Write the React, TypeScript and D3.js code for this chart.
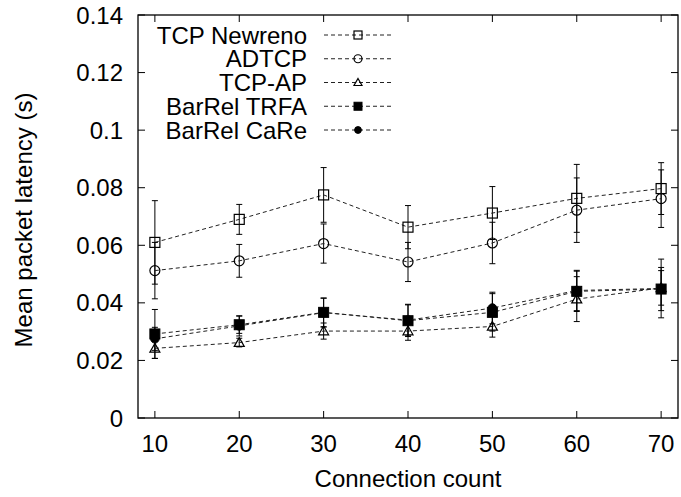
import React from "react";
import * as d3 from "d3";

const connections = [10, 20, 30, 40, 50, 60, 70];
const newreno = [0.061, 0.069, 0.0775, 0.0663, 0.0712, 0.0763, 0.0797];
const newrenoErr = [0.0145, 0.0052, 0.0095, 0.0075, 0.0092, 0.0118, 0.009];
const adtcp = [0.0512, 0.0546, 0.0606, 0.0542, 0.0608, 0.0722, 0.0762];
const adtcpErr = [0.0098, 0.0057, 0.0068, 0.0068, 0.0072, 0.0112, 0.01];
const tcpap = [0.0242, 0.0262, 0.0302, 0.0302, 0.0318, 0.0413, 0.0452];
const tcpapErr = [0.0035, 0.0015, 0.0028, 0.0032, 0.0037, 0.0078, 0.006];
const trfa = [0.0292, 0.0324, 0.0367, 0.0338, 0.0367, 0.044, 0.0448];
const trfaErr = [0.0085, 0.003, 0.005, 0.0055, 0.0065, 0.007, 0.0075];
const care = [0.0275, 0.032, 0.0366, 0.034, 0.0382, 0.0443, 0.045];
const careErr = [0.004, 0.0035, 0.005, 0.0055, 0.0055, 0.007, 0.0102];

const yTicks = [0, 0.02, 0.04, 0.06, 0.08, 0.1, 0.12, 0.14];
const yTickLabels = ["0", "0.02", "0.04", "0.06", "0.08", "0.1", "0.12", "0.14"];
const xTicks = [10, 20, 30, 40, 50, 60, 70];

type Marker = "square" | "circle" | "triangle" | "fsquare" | "fcircle";
const seriesNames = ["TCP Newreno", "ADTCP", "TCP-AP", "BarRel TRFA", "BarRel CaRe"];
const seriesValues = [newreno, adtcp, tcpap, trfa, care];
const seriesErrs = [newrenoErr, adtcpErr, tcpapErr, trfaErr, careErr];
const seriesMarkers: Marker[] = ["square", "circle", "triangle", "fsquare", "fcircle"];

const W = 681, H = 497;
const L = 138, R = 678, T = 15, B = 418;
const FONT = "'Liberation Sans', Arial, Helvetica, sans-serif";
const FS = 24;

function MarkerShape({ type, cx, cy, s }: { type: Marker; cx: number; cy: number; s: number }) {
  const h = s / 2;
  switch (type) {
    case "square":
      return <rect x={cx - h} y={cy - h} width={s} height={s} fill="none" stroke="#000" strokeWidth={1.2} />;
    case "fsquare":
      return <rect x={cx - h} y={cy - h} width={s} height={s} fill="#000" stroke="#000" strokeWidth={1} />;
    case "circle":
      return <circle cx={cx} cy={cy} r={h} fill="none" stroke="#000" strokeWidth={1.2} />;
    case "fcircle":
      return <circle cx={cx} cy={cy} r={h * 0.85} fill="#000" stroke="#000" strokeWidth={1} />;
    case "triangle":
      return (
        <path
          d={`M${cx},${cy - h} L${cx + h},${cy + h * 0.75} L${cx - h},${cy + h * 0.75} Z`}
          fill="none"
          stroke="#000"
          strokeWidth={1.2}
        />
      );
  }
}

export default function App() {
  const x = d3.scaleLinear().domain([8, 72]).range([L, R]);
  const y = d3.scaleLinear().domain([0, 0.14]).range([B, T]);
  const line = d3
    .line<number>()
    .x((_, i) => x(connections[i]))
    .y((d) => y(d));
  const tick = 7;
  const capW = 3;

  const legendRight = 307;
  const legendY0 = 35;
  const legendDY = 23.75;
  const legLine0 = 324, legLine1 = 391, legMarkX = 358;

  return (
    <svg width={W} height={H} style={{ position: "absolute", left: 0, top: 0, background: "#fff" }} fontFamily={FONT}>
      <rect x={0} y={0} width={W} height={H} fill="#fff" />
      {/* ticks */}
      {yTicks.map((t, i) => (
        <g key={"yt" + i}>
          <line x1={L} x2={L + tick} y1={y(t)} y2={y(t)} stroke="#000" strokeWidth={1} />
          <line x1={R} x2={R - tick} y1={y(t)} y2={y(t)} stroke="#000" strokeWidth={1} />
          <text x={L - 15} y={y(t)} dy="0.36em" textAnchor="end" fontSize={FS} fill="#000">
            {yTickLabels[i]}
          </text>
        </g>
      ))}
      {xTicks.map((t, i) => (
        <g key={"xt" + i}>
          <line x1={x(t)} x2={x(t)} y1={B} y2={B - tick} stroke="#000" strokeWidth={1} />
          <line x1={x(t)} x2={x(t)} y1={T} y2={T + tick} stroke="#000" strokeWidth={1} />
          <text x={x(t)} y={452} textAnchor="middle" fontSize={FS} fill="#000">
            {t}
          </text>
        </g>
      ))}
      {/* series */}
      {seriesValues.map((vals, si) => (
        <g key={"s" + si}>
          {vals.map((v, i) => {
            const e = seriesErrs[si][i];
            const cx = x(connections[i]);
            return (
              <g key={"e" + i}>
                <line x1={cx} x2={cx} y1={y(v - e)} y2={y(v + e)} stroke="#000" strokeWidth={1} />
                <line x1={cx - capW} x2={cx + capW} y1={y(v - e)} y2={y(v - e)} stroke="#000" strokeWidth={1} />
                <line x1={cx - capW} x2={cx + capW} y1={y(v + e)} y2={y(v + e)} stroke="#000" strokeWidth={1} />
              </g>
            );
          })}
          <path d={line(vals) || ""} fill="none" stroke="#222" strokeWidth={1} strokeDasharray="4,3" />
          {vals.map((v, i) => (
            <MarkerShape key={"m" + i} type={seriesMarkers[si]} cx={x(connections[i])} cy={y(v)} s={10} />
          ))}
        </g>
      ))}
      {/* legend */}
      {seriesNames.map((name, i) => {
        const ly = legendY0 + i * legendDY;
        return (
          <g key={"l" + i}>
            <text x={legendRight} y={ly} dy="0.36em" textAnchor="end" fontSize={FS} fill="#000">
              {name}
            </text>
            <line x1={legLine0} x2={legLine1} y1={ly} y2={ly} stroke="#222" strokeWidth={1} strokeDasharray="4,3" />
            <MarkerShape type={seriesMarkers[i]} cx={legMarkX} cy={ly} s={8} />
          </g>
        );
      })}
      {/* border */}
      <rect x={L} y={T} width={R - L} height={B - T} fill="none" stroke="#000" strokeWidth={1.3} />
      {/* axis titles */}
      <text x={(L + R) / 2} y={487} textAnchor="middle" fontSize={FS} fill="#000">
        Connection count
      </text>
      <text transform={`translate(32,220) rotate(-90)`} textAnchor="middle" fontSize={FS} fill="#000">
        Mean packet latency (s)
      </text>
    </svg>
  );
}
